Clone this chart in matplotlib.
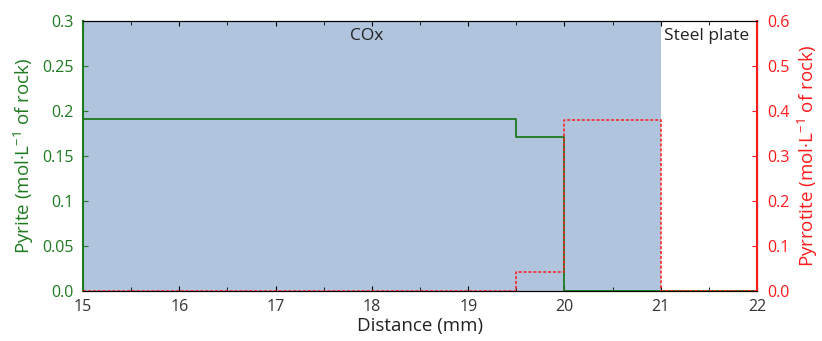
import numpy as np
import matplotlib.pyplot as plt
from matplotlib.ticker import MultipleLocator

plt.rcParams['font.family'] = ['Open Sans', 'DejaVu Sans']
plt.rcParams['mathtext.fontset'] = 'custom'
plt.rcParams['mathtext.rm'] = 'Open Sans'
plt.rcParams['mathtext.it'] = 'Open Sans:italic'
plt.rcParams['axes.unicode_minus'] = False

# step data (mm)
x_edges = [15, 19.5, 20, 21, 22]
pyrite = [0.191, 0.171, 0.0, 0.0, 0.0]
pyrrhotite = [0.0, 0.041, 0.38, 0.0, 0.0]

pyrite_ticks = [0, 0.05, 0.1, 0.15, 0.2, 0.25, 0.3]
pyrite_labels = ["0.0", "0.05", "0.1", "0.15", "0.2", "0.25", "0.3"]
pyrr_ticks = [0, 0.1, 0.2, 0.3, 0.4, 0.5, 0.6]
pyrr_labels = ["0.0", "0.1", "0.2", "0.3", "0.4", "0.5", "0.6"]

green = '#1e7a1e'
red = '#ff1a1a'

fig, ax = plt.subplots(figsize=(8.22, 3.41), dpi=100)
fig.subplots_adjust(left=0.101, right=0.921, top=0.938, bottom=0.147)

ax.axvspan(15, 21, color='#b0c4de', lw=0)
ax.step(x_edges, pyrite, where='post', color=green, lw=1.3, zorder=3)
ax.set_xlim(15, 22)
ax.set_ylim(0, 0.3)
ax.set_yticks(pyrite_ticks)
ax.set_yticklabels(pyrite_labels)
ax.xaxis.set_minor_locator(MultipleLocator(0.5))
ax.tick_params(axis='x', which='both', direction='in', top=True, labelsize=11.5, pad=6,
               labelcolor='#333333')
ax.tick_params(axis='x', which='minor', length=3)
ax.tick_params(axis='y', direction='in', colors=green, labelsize=11.5, pad=7)
ax.set_xlabel("Distance (mm)", fontsize=13.5, labelpad=1, color='#222222')
ax.set_ylabel("Pyrite (mol·L$^{\\mathrm{-1}}$ of rock)", color=green, fontsize=13.5, labelpad=4)
ax.spines['left'].set_color(green)
ax.spines['left'].set_linewidth(1.5)

ax2 = ax.twinx()
ax2.step(x_edges, pyrrhotite, where='post', color=red, lw=1.1, ls=(0, (2, 1.2)), zorder=4)
ax2.set_ylim(0, 0.6)
ax2.set_yticks(pyrr_ticks)
ax2.set_yticklabels(pyrr_labels)
ax2.tick_params(axis='y', direction='in', colors=red, labelsize=11.5, pad=7)
ax2.set_ylabel("Pyrrotite (mol·L$^{\\mathrm{-1}}$ of rock)", color=red, fontsize=13.5, labelpad=5)
ax2.spines['right'].set_color(red)
ax2.spines['right'].set_linewidth(1.5)
ax2.spines['left'].set_visible(False)

ax.text(17.95, 0.284, "COx", fontsize=12.5, ha='center', va='center', color='#222222')
ax.text(21.03, 0.284, "Steel plate", fontsize=12.5, ha='left', va='center', color='#222222')

fig.savefig("out.png", dpi=100)
